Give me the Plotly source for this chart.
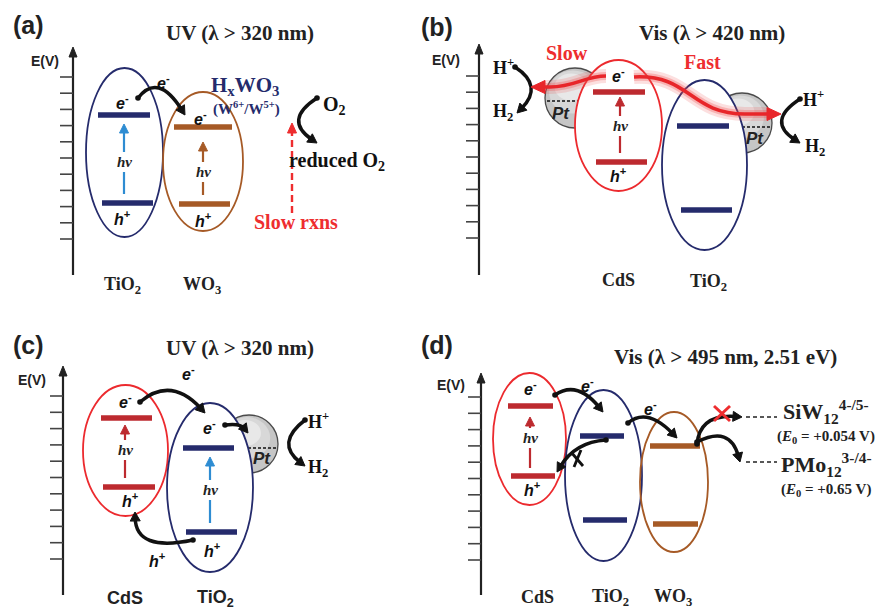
import math
import plotly.graph_objects as go

# ---------------- data ----------------
PANEL_LABELS = ["(a)", "(b)", "(c)", "(d)"]
PANEL_LABEL_X = [28, 437, 28, 437]
PANEL_LABEL_Y = [25, 27, 345, 345]
TITLES = ["UV (λ > 320 nm)", "Vis (λ > 420 nm)", "UV (λ > 320 nm)", "Vis (λ > 495 nm, 2.51 eV)"]
TITLE_X = [240, 712, 240, 725]
TITLE_Y = [33, 33, 348, 357]

AXIS_X = [73, 479, 63, 481]
AXIS_TOP = [47, 44, 366, 373]
AXIS_BOTTOM = [275, 275, 595, 595]
TICK_FIRST = [77, 76, 396, 397]
TICK_LAST = [239, 238, 559, 560]
TICK_COUNT = 11
EV_X = [45, 446, 32, 451]
EV_Y = [61, 60, 380, 385]

# semiconductors (band levels drawn as bars inside ellipses)
SC_KIND = ["tio2", "wo3", "cds", "tio2", "cds", "tio2", "cds", "tio2", "wo3"]
SC_NAME = ["TiO<sub>2</sub>", "WO<sub>3</sub>", "CdS", "TiO<sub>2</sub>", "CdS",
           "TiO<sub>2</sub>", "CdS", "TiO<sub>2</sub>", "WO<sub>3</sub>"]
SC_SANS = [False, False, False, False, True, True, False, False, False]
SC_CX = [124.5, 203, 618.5, 704.5, 125.5, 210, 529.5, 603.5, 674]
SC_CY = [152.5, 161.5, 125.5, 165, 450.5, 487.5, 439, 475.5, 482]
SC_RX = [38.5, 40, 43.5, 42.5, 42.5, 43, 36.5, 38.5, 34]
SC_RY = [84.5, 69.5, 65.5, 85, 65.5, 84.5, 66, 85.5, 70]
SC_WHITE = [False, False, True, True, False, True, False, False, False]
CB_Y = [115, 127, 92, 126, 418, 448, 406, 436, 446]
CB_X0 = [98, 174, 593, 677, 101, 183, 508, 580, 650]
CB_X1 = [150, 232, 645, 729, 152, 234, 553, 624, 700]
VB_Y = [203, 204, 162, 210, 487, 532, 476, 520, 524]
VB_X0 = [102, 179, 596, 681, 103, 186, 511, 583, 653]
VB_X1 = [153, 230, 647, 732, 155, 237, 555, 627, 698]
LABEL_X = [122, 202, 618, 708, 125, 215, 537, 610, 673]
LABEL_Y = [285, 285, 280, 282, 598, 598, 597, 597, 597]

# photo-excitation (hv) arrows
EXC_X = [124, 203, 620, 125, 210, 530]
EXC_BOTTOM = [194, 195, 153, 478, 523, 468]
EXC_TOP = [124, 142, 97, 425, 457, 417]
EXC_TEXT_Y = [162, 172, 126, 450, 490, 438]
EXC_KIND = ["blue", "wo3", "cds", "cds", "blue", "cds"]

# carrier labels
E_LABEL_X = [122, 200, 618, 125, 209, 530, 163, 188, 587, 650]
E_LABEL_Y = [102, 118, 75, 401, 427, 388, 82, 373, 385, 408]
H_LABEL_X = [122, 203, 618, 130, 212, 532, 157]
H_LABEL_Y = [218, 220, 175, 500, 550, 489, 560]

# curved black arrows: start, control, end
CURVE_START = [(138, 98), (317, 98), (515, 67), (800, 99), (140, 402), (225, 425),
               (193, 540), (305, 420), (555, 395), (628, 423), (606, 440),
               (697, 444), (697, 442)]
CURVE_CTRL = [(158, 72), (283, 120), (544, 86), (766, 121), (171, 376), (240, 423),
              (136, 552), (275, 443), (577, 380), (647, 407), (575, 442),
              (700, 414), (730, 425)]
CURVE_END = [(185, 115), (317, 143), (517, 113), (800, 143), (205, 413), (248, 433),
             (135, 512), (305, 466), (603, 412), (677, 438), (557, 472),
             (742, 417), (740, 462)]

# Pt co-catalyst particles
PT_CX = [575, 742, 249]
PT_CY = [98, 123, 444]
PT_R = [30, 30, 29]
PT_DASH_Y = [101, 127, 448]
PT_DASH_X0 = [547, 742, 248]
PT_DASH_X1 = [580, 771, 278]
PT_TEXT_X = [561, 755, 262]
PT_TEXT_Y = [113, 138, 458]

# H+ / H2 labels
HP_X = [503, 813, 318]
HP_Y = [66, 98, 420]
H2_X = [503, 815, 318]
H2_Y = [112, 147, 468]

# ---------------- styles ----------------
NAVY = "#252B6C"
RED_E = "#EC2A2E"
RED_B = "#BD2A2F"
BROWN = "#A65A26"
BLUE = "#2E8CD2"
BLACK = "#111111"
SERIF = "Liberation Serif, Times New Roman, serif"
SANS = "Liberation Sans, Arial, sans-serif"
ELL_COLOR = {"tio2": NAVY, "wo3": BROWN, "cds": RED_E}
BAR_COLOR = {"tio2": NAVY, "wo3": BROWN, "cds": RED_B}
EXC_COLOR = {"blue": BLUE, "wo3": BROWN, "cds": RED_B}

shapes = []
annots = []


def line(x0, y0, x1, y1, color, width, dash="solid"):
    shapes.append(dict(type="line", x0=x0, y0=y0, x1=x1, y1=y1, xref="x", yref="y",
                       line=dict(color=color, width=width, dash=dash)))


def head(tip, d, L, Wd, color):
    n = math.hypot(d[0], d[1])
    ux, uy = d[0] / n, d[1] / n
    bx, by = tip[0] - L * ux, tip[1] - L * uy
    px, py = -uy, ux
    p = (f"M {tip[0]:.2f},{tip[1]:.2f} L {bx + px * Wd / 2:.2f},{by + py * Wd / 2:.2f} "
         f"L {bx - px * Wd / 2:.2f},{by - py * Wd / 2:.2f} Z")
    shapes.append(dict(type="path", path=p, xref="x", yref="y", fillcolor=color,
                       line=dict(color=color, width=1)))


def text(x, y, s, size, color=BLACK, family=SERIF, xanchor="center"):
    annots.append(dict(x=x, y=y, xref="x", yref="y", text=s, showarrow=False,
                       font=dict(size=size, color=color, family=family),
                       xanchor=xanchor, yanchor="middle"))


def circle(cx, cy, rx, ry, line_color, width, fill="rgba(0,0,0,0)"):
    shapes.append(dict(type="circle", x0=cx - rx, x1=cx + rx, y0=cy - ry, y1=cy + ry,
                       xref="x", yref="y", fillcolor=fill,
                       line=dict(color=line_color, width=width)))


# ---------------- axes ----------------
for i in range(4):
    line(AXIS_X[i], AXIS_BOTTOM[i], AXIS_X[i], AXIS_TOP[i] + 8, "#222222", 2.2)
    head((AXIS_X[i], AXIS_TOP[i]), (0, -1), 10, 8, "#222222")
    step = (TICK_LAST[i] - TICK_FIRST[i]) / (TICK_COUNT - 1)
    for k in range(TICK_COUNT):
        y = TICK_FIRST[i] + k * step
        line(AXIS_X[i] - 13, y, AXIS_X[i], y, "#444444", 1.6)
    text(EV_X[i], EV_Y[i], "<b>E(V)</b>", 14, "#222222", SANS)
    text(PANEL_LABEL_X[i], PANEL_LABEL_Y[i], "<b>" + PANEL_LABELS[i] + "</b>", 25, "#222222", SANS)
    text(TITLE_X[i], TITLE_Y[i], "<b>" + TITLES[i] + "</b>", 21, "#222222", SERIF)

# ---------------- Pt particles ----------------
for i in range(3):
    circle(PT_CX[i], PT_CY[i], PT_R[i], PT_R[i], "#4a4a4a", 1.3, "#c6c6c6")
    circle(PT_CX[i] - 2, PT_CY[i] - 6, PT_R[i] * 0.8, PT_R[i] * 0.72, "rgba(0,0,0,0)", 0, "#d8d8d8")
    circle(PT_CX[i] - 4, PT_CY[i] - 11, PT_R[i] * 0.55, PT_R[i] * 0.45, "rgba(0,0,0,0)", 0, "#e8e8e8")
    line(PT_DASH_X0[i], PT_DASH_Y[i], PT_DASH_X1[i], PT_DASH_Y[i], "#111111", 1.3, "3px,2px")
    text(PT_TEXT_X[i], PT_TEXT_Y[i], "<b><i>Pt</i></b>", 17, "#222222", SANS)

# ---------------- semiconductors ----------------
for i in range(len(SC_KIND)):
    if SC_WHITE[i]:
        circle(SC_CX[i], SC_CY[i], SC_RX[i], SC_RY[i], "rgba(0,0,0,0)", 0, "white")
for i in range(len(SC_KIND)):
    k = SC_KIND[i]
    circle(SC_CX[i], SC_CY[i], SC_RX[i], SC_RY[i], ELL_COLOR[k], 1.8)
    line(CB_X0[i], CB_Y[i], CB_X1[i], CB_Y[i], BAR_COLOR[k], 5.5)
    line(VB_X0[i], VB_Y[i], VB_X1[i], VB_Y[i], BAR_COLOR[k], 5.5)
    fam = SANS if SC_SANS[i] else SERIF
    text(LABEL_X[i], LABEL_Y[i], "<b>" + SC_NAME[i] + "</b>", 18, "#222222", fam)

for i in range(len(EXC_X)):
    c = EXC_COLOR[EXC_KIND[i]]
    line(EXC_X[i], EXC_BOTTOM[i], EXC_X[i], EXC_TEXT_Y[i] + 10, c, 2.2)
    line(EXC_X[i], EXC_TEXT_Y[i] - 10, EXC_X[i], EXC_TOP[i] + 6, c, 2.2)
    head((EXC_X[i], EXC_TOP[i]), (0, -1), 9, 9, c)
    text(EXC_X[i], EXC_TEXT_Y[i], "<b><i>hv</i></b>", 15, "#222222", SERIF)

for i in range(len(E_LABEL_X)):
    text(E_LABEL_X[i], E_LABEL_Y[i], "<b><i>e</i><sup>-</sup></b>", 16, "#111111", SANS)
for i in range(len(H_LABEL_X)):
    text(H_LABEL_X[i], H_LABEL_Y[i], "<b><i>h</i><sup>+</sup></b>", 16, "#111111", SANS)

# ---------------- curved arrows ----------------
for i in range(len(CURVE_START)):
    s, c, e = CURVE_START[i], CURVE_CTRL[i], CURVE_END[i]
    d = (e[0] - c[0], e[1] - c[1])
    n = math.hypot(*d)
    eb = (e[0] - 6 * d[0] / n, e[1] - 6 * d[1] / n)
    shapes.append(dict(type="path", xref="x", yref="y",
                       path=f"M {s[0]},{s[1]} Q {c[0]},{c[1]} {eb[0]:.2f},{eb[1]:.2f}",
                       line=dict(color=BLACK, width=3.5)))
    circle(s[0], s[1], 2.8, 2.8, BLACK, 0, BLACK)
    head(e, d, 9, 10, BLACK)

# ---------------- panel (a) extras ----------------
text(245, 86, "<b>H<sub>x</sub>WO<sub>3</sub></b>", 21, NAVY, SERIF)
text(246, 108, "<b>(W<sup>6+</sup>/W<sup>5+</sup>)</b>", 15, NAVY, SERIF)
text(334, 105, "<b>O<sub>2</sub></b>", 20, "#111111", SERIF)
text(337, 161, "<b>reduced O<sub>2</sub></b>", 20, "#111111", SERIF)
line(292, 213, 292, 132, "#EE2D2F", 2.4, "7px,4px")
head((292, 123), (0, -1), 10, 9, "#EE2D2F")
text(296, 222, "<b>Slow rxns</b>", 20, "#EE2D2F", SERIF)

# ---------------- panel (b) glowing arrows ----------------
FAST_PATH = "M 634,77 C 690,74 690,114 745,114 L 768,114"
SLOW_PATH = "M 606,76 C 585,76 575,87 550,87 L 544,87"
for p in (FAST_PATH, SLOW_PATH):
    shapes.append(dict(type="path", path=p, xref="x", yref="y",
                       line=dict(color="rgba(240,80,80,0.18)", width=14)))
    shapes.append(dict(type="path", path=p, xref="x", yref="y",
                       line=dict(color="rgba(240,80,80,0.30)", width=8)))
    shapes.append(dict(type="path", path=p, xref="x", yref="y",
                       line=dict(color="#E8262A", width=3.5)))
head((781, 114), (1, 0), 14, 13, "#E8262A")
head((531, 87), (-1, 0), 14, 13, "#E8262A")
text(567, 53, "<b>Slow</b>", 20, "#EE2D2F", SERIF)
text(702, 62, "<b>Fast</b>", 20, "#EE2D2F", SERIF)

for i in range(3):
    text(HP_X[i], HP_Y[i], "<b>H<sup>+</sup></b>", 18, "#111111", SERIF)
    text(H2_X[i], H2_Y[i], "<b>H<sub>2</sub></b>", 18, "#111111", SERIF)

# ---------------- panel (d) extras ----------------
line(571, 452, 583, 466, BLACK, 2.8)
line(574, 467, 581, 450, BLACK, 2.8)
line(714, 406, 730, 421, "#EE2D2F", 3)
line(714, 421, 730, 406, "#EE2D2F", 3)
line(746, 417, 777, 417, "#222222", 1.4, "4px,3px")
line(746, 462, 777, 462, "#222222", 1.4, "4px,3px")
text(826, 411, "<b>SiW<sub>12</sub><sup>4-/5-</sup></b>", 22, "#222222", SERIF)
text(826, 437, "<b>(<i>E</i><sub>0</sub> = +0.054 V)</b>", 15, "#222222", SERIF)
text(826, 464, "<b>PMo<sub>12</sub><sup>3-/4-</sup></b>", 22, "#222222", SERIF)
text(826, 490, "<b>(<i>E</i><sub>0</sub> = +0.65 V)</b>", 15, "#222222", SERIF)

fig = go.Figure()
fig.update_layout(
    width=878, height=610,
    margin=dict(l=0, r=0, t=0, b=0),
    paper_bgcolor="white", plot_bgcolor="white",
    xaxis=dict(range=[0, 878], visible=False, fixedrange=True),
    yaxis=dict(range=[610, 0], visible=False, fixedrange=True),
    shapes=shapes, annotations=annots, showlegend=False,
)
fig.write_html("out.html", config={"displayModeBar": False},
               post_script="document.body.style.margin='0';document.body.style.overflow='hidden';")
